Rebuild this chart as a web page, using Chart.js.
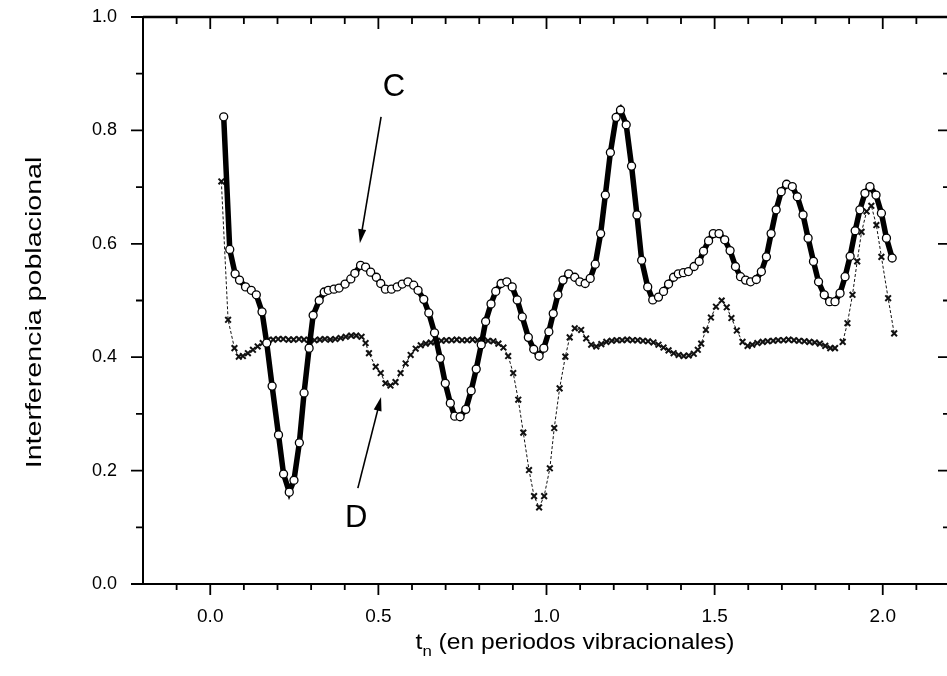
<!DOCTYPE html>
<html>
<head>
<meta charset="utf-8">
<script src="https://cdn.jsdelivr.net/npm/chart.js@4"></script>
<style>
  html, body { margin: 0; padding: 0; background: #fff; overflow: hidden; }
  #wrap { width: 956px; height: 676px; }
</style>
</head>
<body>
<div id="wrap"><canvas id="chart" width="956" height="676"></canvas></div>
<script>
// curve C (open circles, thick line)
const cX = [0.040,0.058,0.074,0.087,0.105,0.122,0.137,0.154,0.168,0.184,0.203,0.218,0.235,0.249,0.265,0.279,0.294,0.306,0.324,0.339,
  0.351,0.368,0.383,0.401,0.418,0.430,0.447,0.462,0.477,0.494,0.507,0.521,0.539,0.556,0.571,0.588,0.605,0.618,0.635,0.650,
  0.667,0.684,0.699,0.714,0.727,0.743,0.760,0.776,0.791,0.806,0.819,0.835,0.849,0.865,0.882,0.898,0.913,0.928,0.946,0.962,
  0.978,0.992,1.007,1.020,1.034,1.049,1.066,1.084,1.099,1.115,1.130,1.145,1.161,1.175,1.190,1.207,1.220,1.237,1.253,1.269,
  1.283,1.301,1.316,1.333,1.348,1.363,1.378,1.392,1.407,1.422,1.439,1.454,1.467,1.482,1.496,1.513,1.530,1.546,1.562,1.577,
  1.592,1.607,1.624,1.639,1.654,1.668,1.683,1.698,1.714,1.731,1.746,1.763,1.778,1.794,1.809,1.826,1.842,1.858,1.873,1.888,
  1.903,1.918,1.932,1.947,1.962,1.980,1.996,2.011,2.028];
const cY = [0.824,0.590,0.547,0.536,0.524,0.518,0.510,0.480,0.425,0.349,0.263,0.194,0.162,0.183,0.249,0.337,0.416,0.474,0.500,0.515,
  0.518,0.520,0.522,0.529,0.538,0.548,0.562,0.559,0.550,0.541,0.530,0.520,0.520,0.524,0.529,0.533,0.527,0.518,0.502,0.478,
  0.443,0.398,0.354,0.319,0.296,0.295,0.308,0.341,0.379,0.422,0.463,0.494,0.516,0.530,0.533,0.524,0.501,0.471,0.435,0.414,
  0.402,0.416,0.445,0.477,0.510,0.536,0.547,0.541,0.533,0.530,0.539,0.564,0.618,0.686,0.761,0.823,0.836,0.810,0.737,0.651,
  0.571,0.524,0.501,0.506,0.516,0.529,0.541,0.547,0.549,0.551,0.560,0.569,0.587,0.605,0.618,0.618,0.607,0.588,0.560,0.542,
  0.536,0.533,0.537,0.551,0.577,0.618,0.660,0.692,0.705,0.701,0.683,0.651,0.610,0.569,0.533,0.510,0.498,0.498,0.513,0.542,
  0.578,0.623,0.660,0.689,0.701,0.686,0.654,0.610,0.575];

// curve D (crosses, thin dashed line)
const dX = [0.033,0.053,0.072,0.085,0.097,0.112,0.127,0.141,0.156,0.171,0.187,0.202,0.217,0.233,0.248,0.264,0.279,0.295,0.310,0.326,
  0.341,0.357,0.372,0.388,0.403,0.419,0.434,0.450,0.462,0.472,0.492,0.507,0.521,0.536,0.551,0.566,0.581,0.596,0.611,0.626,
  0.641,0.656,0.671,0.687,0.702,0.718,0.733,0.749,0.764,0.780,0.795,0.811,0.826,0.842,0.857,0.872,0.886,0.901,0.916,0.931,
  0.948,0.963,0.978,0.993,1.010,1.023,1.039,1.056,1.069,1.084,1.103,1.118,1.133,1.148,1.163,1.178,1.194,1.209,1.225,1.240,
  1.256,1.271,1.287,1.302,1.318,1.333,1.348,1.363,1.378,1.393,1.408,1.423,1.438,1.450,1.460,1.474,1.489,1.504,1.521,1.536,
  1.550,1.566,1.583,1.598,1.612,1.627,1.643,1.658,1.674,1.689,1.705,1.720,1.736,1.751,1.767,1.782,1.798,1.813,1.829,1.844,
  1.858,1.881,1.895,1.910,1.924,1.937,1.952,1.966,1.981,1.996,2.016,2.034];
const dY = [0.710,0.466,0.416,0.401,0.402,0.407,0.413,0.419,0.425,0.430,0.431,0.432,0.432,0.431,0.431,0.432,0.431,0.430,0.430,0.431,
  0.432,0.431,0.432,0.434,0.436,0.438,0.438,0.436,0.425,0.407,0.383,0.372,0.354,0.350,0.356,0.372,0.389,0.404,0.415,0.421,
  0.424,0.426,0.428,0.429,0.430,0.430,0.431,0.430,0.430,0.431,0.430,0.430,0.429,0.428,0.424,0.417,0.402,0.372,0.325,0.267,
  0.201,0.155,0.135,0.155,0.204,0.275,0.345,0.401,0.435,0.451,0.448,0.433,0.422,0.419,0.423,0.427,0.429,0.430,0.430,0.431,
  0.430,0.430,0.429,0.428,0.426,0.422,0.417,0.412,0.407,0.404,0.402,0.403,0.406,0.413,0.424,0.448,0.470,0.489,0.500,0.488,
  0.469,0.447,0.427,0.420,0.422,0.425,0.427,0.428,0.429,0.430,0.430,0.431,0.430,0.429,0.428,0.427,0.426,0.424,0.420,0.416,
  0.416,0.427,0.460,0.510,0.569,0.621,0.657,0.667,0.633,0.577,0.504,0.442];

// axes
const xMajorTicks = [0, 0.5, 1.0, 1.5, 2.0];
const xMinorTicks = [-0.1, 0.1, 0.2, 0.3, 0.4, 0.6, 0.7, 0.8, 0.9, 1.1, 1.2, 1.3, 1.4, 1.6, 1.7, 1.8, 1.9, 2.1];
const yMajorTicks = [0, 0.2, 0.4, 0.6, 0.8, 1.0];
const yMinorTicks = [0.1, 0.3, 0.5, 0.7, 0.9];

const yTitle = 'Interferencia poblacional';
const xTitleMain = 't';
const xTitleSub = 'n';
const xTitleRest = ' (en periodos vibracionales)';

// labels + arrows, in data coords
const labelC = { text: 'C', x: 0.546, y: 0.875 };
const arrowC = { x0: 0.508, y0: 0.824, x1: 0.445, y1: 0.601 };
const labelD = { text: 'D', x: 0.434, y: 0.116 };
const arrowD = { x0: 0.439, y0: 0.169, x1: 0.508, y1: 0.330 };

const FONT = '"Liberation Sans", Arial, sans-serif';

function toPoints(xs, ys) {
    return xs.map((x, i) => ({ x: x, y: ys[i] }));
}

// no label-driven padding, the plot box is set by layout padding only
function noPad(scale) {
    scale.paddingTop = 0;
    scale.paddingBottom = 0;
    scale.paddingLeft = 0;
    scale.paddingRight = 0;
}

function drawArrow(ctx, xs, ys, a) {
    let x0 = xs.getPixelForValue(a.x0), y0 = ys.getPixelForValue(a.y0);
    let x1 = xs.getPixelForValue(a.x1), y1 = ys.getPixelForValue(a.y1);
    let ang = Math.atan2(y1 - y0, x1 - x0);
    ctx.lineWidth = 1.6;
    ctx.beginPath();
    ctx.moveTo(x0, y0);
    ctx.lineTo(x1 - 8 * Math.cos(ang), y1 - 8 * Math.sin(ang));
    ctx.stroke();
    ctx.beginPath();
    ctx.moveTo(x1, y1);
    ctx.lineTo(x1 - 14 * Math.cos(ang) + 4 * Math.sin(ang), y1 - 14 * Math.sin(ang) - 4 * Math.cos(ang));
    ctx.lineTo(x1 - 14 * Math.cos(ang) - 4 * Math.sin(ang), y1 - 14 * Math.sin(ang) + 4 * Math.cos(ang));
    ctx.closePath();
    ctx.fill();
}

const framePlugin = {
    id: 'frame',
    afterDraw(chart) {
        const ctx = chart.ctx;
        const a = chart.chartArea;
        const xs = chart.scales.x, ys = chart.scales.y;
        ctx.save();
        ctx.strokeStyle = '#000';
        ctx.fillStyle = '#000';

        // top + right frame
        ctx.lineWidth = 2.5;
        ctx.beginPath();
        ctx.moveTo(a.left, a.top);
        ctx.lineTo(a.right, a.top);
        ctx.lineTo(a.right, a.bottom);
        ctx.stroke();

        // ticks: bottom/left outward, top/right inward
        ctx.lineWidth = 1.8;
        ctx.beginPath();
        xMajorTicks.concat(xMinorTicks).forEach(v => {
            let len = xMajorTicks.includes(v) ? 11 : 6;
            let px = xs.getPixelForValue(v);
            ctx.moveTo(px, a.bottom); ctx.lineTo(px, a.bottom + len);
            ctx.moveTo(px, a.top); ctx.lineTo(px, a.top + len + 1);
        });
        yMajorTicks.concat(yMinorTicks).forEach(v => {
            let len = yMajorTicks.includes(v) ? 12 : 7;
            let py = ys.getPixelForValue(v);
            ctx.moveTo(a.left, py); ctx.lineTo(a.left - len, py);
            ctx.moveTo(a.right, py); ctx.lineTo(a.right - len, py);
        });
        ctx.stroke();

        // annotations
        ctx.font = '31px ' + FONT;
        ctx.textAlign = 'center';
        ctx.textBaseline = 'middle';
        [labelC, labelD].forEach(l => {
            ctx.fillText(l.text, xs.getPixelForValue(l.x), ys.getPixelForValue(l.y));
        });
        drawArrow(ctx, xs, ys, arrowC);
        drawArrow(ctx, xs, ys, arrowD);

        // y title (stretched a bit, like the scan)
        ctx.save();
        ctx.translate(35, (a.top + a.bottom) / 2 + 12);
        ctx.rotate(-Math.PI / 2);
        ctx.scale(1.3, 1);
        ctx.font = '22px ' + FONT;
        ctx.fillText(yTitle, 0, 0);
        ctx.restore();

        // x title with subscript
        ctx.save();
        ctx.font = '22px ' + FONT;
        let wMain = ctx.measureText(xTitleMain).width;
        let wRest = ctx.measureText(xTitleRest).width;
        ctx.font = '15px ' + FONT;
        let wSub = ctx.measureText(xTitleSub).width;
        let sx = 1.12;
        let total = (wMain + wSub + wRest) * sx;
        ctx.translate(575 - total / 2, 643);
        ctx.scale(sx, 1);
        ctx.textAlign = 'left';
        ctx.font = '22px ' + FONT;
        ctx.fillText(xTitleMain, 0, 0);
        ctx.font = '15px ' + FONT;
        ctx.fillText(xTitleSub, wMain, 9);
        ctx.font = '22px ' + FONT;
        ctx.fillText(xTitleRest, wMain + wSub, 0);
        ctx.restore();

        ctx.restore();
    }
};

new Chart(document.getElementById('chart'), {
    type: 'line',
    data: {
        datasets: [
            {
                label: 'C',
                data: toPoints(cX, cY),
                borderColor: '#000',
                borderWidth: 5.5,
                tension: 0,
                pointStyle: 'circle',
                pointRadius: 4,
                pointBackgroundColor: '#fff',
                pointBorderColor: '#000',
                pointBorderWidth: 1.3
            },
            {
                label: 'D',
                data: toPoints(dX, dY),
                borderColor: '#111',
                borderWidth: 1,
                borderDash: [3, 2],
                tension: 0,
                pointStyle: 'crossRot',
                pointRadius: 4,
                pointBorderColor: '#111',
                pointBorderWidth: 2
            }
        ]
    },
    options: {
        responsive: false,
        animation: false,
        layout: { padding: { top: 17, right: -3, left: 0, bottom: 0 } },
        plugins: {
            legend: { display: false },
            tooltip: { enabled: false }
        },
        scales: {
            x: {
                type: 'linear',
                min: -0.2,
                max: 2.2,
                afterBuildTicks: scale => { scale.ticks = xMajorTicks.map(v => ({ value: v })); },
                afterFit: scale => { scale.height = 92; noPad(scale); },
                grid: { drawOnChartArea: false, drawTicks: false },
                border: { display: true, color: '#000', width: 2 },
                ticks: {
                    color: '#000',
                    padding: 21,
                    font: { family: FONT, size: 19 },
                    callback: v => v.toFixed(1)
                }
            },
            y: {
                min: 0,
                max: 1,
                afterBuildTicks: scale => { scale.ticks = yMajorTicks.map(v => ({ value: v })); },
                afterFit: scale => { scale.width = 143; noPad(scale); },
                grid: { drawOnChartArea: false, drawTicks: false },
                border: { display: true, color: '#000', width: 2 },
                ticks: {
                    color: '#000',
                    padding: 26,
                    font: { family: FONT, size: 18 },
                    callback: v => v.toFixed(1)
                }
            }
        }
    },
    plugins: [framePlugin]
});
</script>
</body>
</html>
